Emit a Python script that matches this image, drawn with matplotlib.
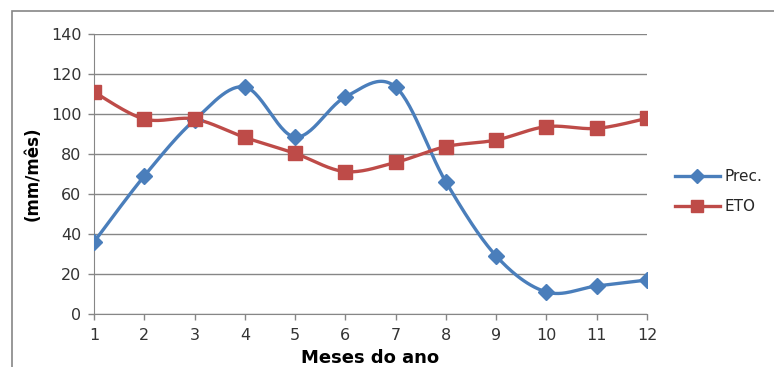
import numpy as np
import matplotlib
matplotlib.use("Agg")
import matplotlib.pyplot as plt
from matplotlib.patches import Rectangle

# --- datos ---
meses = [1, 2, 3, 4, 5, 6, 7, 8, 9, 10, 11, 12]
prec = [36, 69, 97, 113.5, 88.5, 108.5, 113.5, 66, 29, 11, 14, 17]
eto = [111, 97.5, 97.5, 88.3, 80.3, 71.2, 75.8, 83.7, 87, 93.7, 92.8, 97.8]


def suavizar(x, y, n=30):
    # curva tipo Excel (Bezier con tensión 1/6, equivalente a Catmull-Rom)
    x = np.asarray(x, float)
    y = np.asarray(y, float)
    px = np.concatenate([[x[0]], x, [x[-1]]])
    py = np.concatenate([[y[0]], y, [y[-1]]])
    xs, ys = [], []
    t = np.linspace(0, 1, n)
    for i in range(1, len(px) - 2):
        p0 = np.array([px[i], py[i]])
        p3 = np.array([px[i + 1], py[i + 1]])
        p1 = p0 + (np.array([px[i + 1], py[i + 1]]) - np.array([px[i - 1], py[i - 1]])) / 6
        p2 = p3 - (np.array([px[i + 2], py[i + 2]]) - np.array([px[i], py[i]])) / 6
        b = ((1 - t) ** 3)[:, None] * p0 + (3 * (1 - t) ** 2 * t)[:, None] * p1 \
            + (3 * (1 - t) * t ** 2)[:, None] * p2 + (t ** 3)[:, None] * p3
        xs.extend(b[:, 0])
        ys.extend(b[:, 1])
    return xs, ys


plt.rcParams['font.family'] = ['DejaVu Sans']

fig = plt.figure(figsize=(7.74, 3.67), dpi=100)
fig.patches.append(Rectangle((12 / 774, -0.05), 1.0, 1 - 11 / 367 + 0.05,
                             transform=fig.transFigure, fill=False,
                             edgecolor='#868686', linewidth=1.2))

ax = fig.add_axes([94 / 774, 1 - 314 / 367, (647 - 94) / 774, (314 - 34) / 367])

azul = '#4A7EBB'
rojo = '#BE4B48'

sx, sy = suavizar(meses, prec)
ax.plot(sx, sy, color=azul, linewidth=2.4, solid_capstyle='round', zorder=3)
ax.plot(meses, prec, linestyle='none', marker='D', markersize=8, color=azul, zorder=4)

ex, ey = suavizar(meses, eto)
ax.plot(ex, ey, color=rojo, linewidth=2.4, solid_capstyle='round', zorder=3)
ax.plot(meses, eto, linestyle='none', marker='s', markersize=9.5, color=rojo, zorder=4)

# leyenda con muestras manuales
ax.plot([], [], color=azul, linewidth=2.4, marker='D', markersize=7, label='Prec.')
ax.plot([], [], color=rojo, linewidth=2.4, marker='s', markersize=9, label='ETO')
leg = ax.legend(loc='center left', bbox_to_anchor=(1.025, 0.437), frameon=False,
                fontsize=11, handlelength=3.0, handletextpad=0.25, labelspacing=0.95)
for t in leg.get_texts():
    t.set_color('#262626')

ax.set_xlim(1, 12)
ax.set_ylim(0, 140)
ax.set_xticks(meses)
ax.set_yticks(range(0, 141, 20))
ax.tick_params(axis='both', colors='#868686', labelcolor='#333333', labelsize=11.5, length=4, width=1)
ax.tick_params(axis='x', pad=6)
ax.tick_params(axis='y', pad=5)
ax.grid(axis='y', color='#868686', linewidth=1)
ax.set_axisbelow(True)
for s in ['top', 'right']:
    ax.spines[s].set_visible(False)
for s in ['left', 'bottom']:
    ax.spines[s].set_color('#868686')

fig.text(33 / 774, 1 - 174 / 367, '(mm/mês)', fontsize=12, fontweight='bold',
         rotation=90, ha='center', va='center')
fig.text(370 / 774, 1 - 358 / 367, 'Meses do ano', fontsize=13, fontweight='bold',
         ha='center', va='center')

fig.savefig('out.png', dpi=100)
